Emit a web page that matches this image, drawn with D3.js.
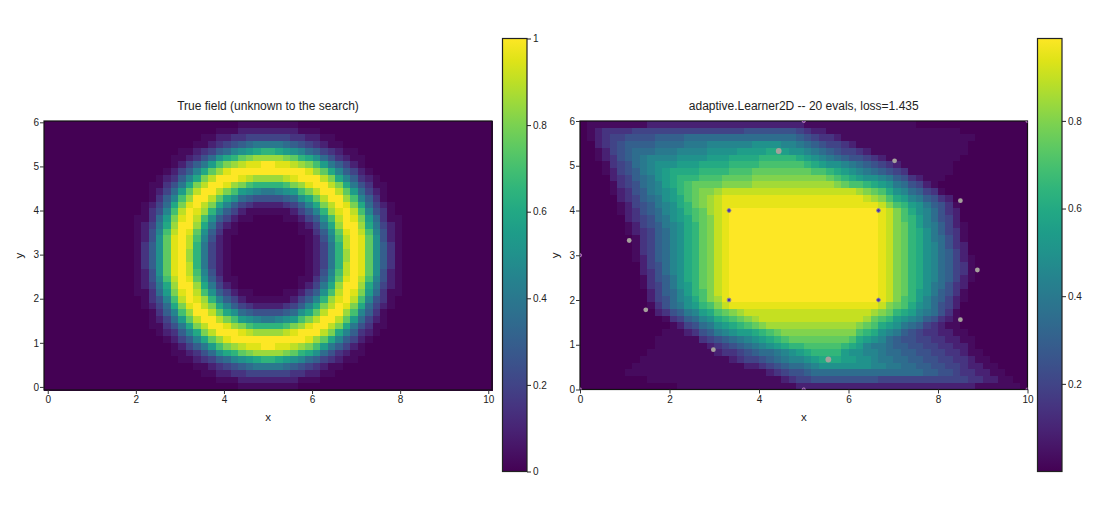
<!DOCTYPE html>
<html>
<head>
<meta charset="utf-8">
<script src="https://cdn.jsdelivr.net/npm/d3@7"></script>
<style>
  body { margin: 0; background: #fff; }
  text { font-family: "Liberation Sans", Arial, sans-serif; fill: #222; }
</style>
</head>
<body>
<div id="wrapper"></div>
<script>
// cell levels, one char per cell, each char indexes levelValues
const levelChars = "0123456789abcdefghijk";
const levelValues = [0, 0.03, 0.09, 0.15, 0.2, 0.25, 0.3, 0.35, 0.4, 0.45, 0.5, 0.55, 0.6, 0.65, 0.7, 0.75, 0.8, 0.85, 0.9, 0.95, 1];

const trueField = [
  "0000000000 0000000000 0000001111 1111000000 0000000000 0000000000",
  "0000000000 0000000000 0001112222 2222111000 0000000000 0000000000",
  "0000000000 0000000000 0112233444 4443322110 0000000000 0000000000",
  "0000000000 0000000000 1123456788 8876543211 0000000000 0000000000",
  "0000000000 0000000011 234679abcd dcba976432 1100000000 0000000000",
  "0000000000 0000000112 357acdfghh hhgfdca753 2110000000 0000000000",
  "0000000000 0000000124 68beghijjk kjjihgeb86 4210000000 0000000000",
  "0000000000 0000001246 9cfhjkkkkk kkkkkjhfc9 6421000000 0000000000",
  "0000000000 0000012369 cgikkkjihh hhijkkkigc 9632100000 0000000000",
  "0000000000 000011358c gikkjhgedd ddeghjkkig c853110000 0000000000",
  "0000000000 00001247bf ikkigeba98 89abegikki fb74210000 0000000000",
  "0000000000 00001369eh kkifca7655 5567acfikk he96310000 0000000000",
  "0000000000 0001247cgj kigc964322 223469cgik jgc7421000 0000000000",
  "0000000000 0001359eik jhd9642111 1112469dhj kie9531000 0000000000",
  "0000000000 001137bgjk iea6421100 0011246aei kjgb731100 0000000000",
  "0000000000 001248chkk hc84210000 00001248ch kkhc842100 0000000000",
  "0000000000 001259eikj fa63110000 00001136af jkie952100 0000000000",
  "0000000000 00125afjki e952100000 000001259e ikjfa52100 0000000000",
  "0000000000 00136afjki d842100000 000001248d ikjfa63100 0000000000",
  "0000000000 00136afjkh d842100000 000001248d hkjfa63100 0000000000",
  "0000000000 00136afjkh d842100000 000001248d hkjfa63100 0000000000",
  "0000000000 00136afjki d842100000 000001248d ikjfa63100 0000000000",
  "0000000000 00125afjki e952100000 000001259e ikjfa52100 0000000000",
  "0000000000 001259eikj fa63110000 00001136af jkie952100 0000000000",
  "0000000000 001248chkk hc84210000 00001248ch kkhc842100 0000000000",
  "0000000000 001137bgjk iea6421100 0011246aei kjgb731100 0000000000",
  "0000000000 0001359eik jhd9642111 1112469dhj kie9531000 0000000000",
  "0000000000 0001247cgj kigc964322 223469cgik jgc7421000 0000000000",
  "0000000000 00001369eh kkifca7655 5567acfikk he96310000 0000000000",
  "0000000000 00001247bf ikkigeba98 89abegikki fb74210000 0000000000",
  "0000000000 000011358c gikkjhgedd ddeghjkkig c853110000 0000000000",
  "0000000000 0000012369 cgikkkjihh hhijkkkigc 9632100000 0000000000",
  "0000000000 0000001246 9cfhjkkkkk kkkkkjhfc9 6421000000 0000000000",
  "0000000000 0000000124 68beghijjk kjjihgeb86 4210000000 0000000000",
  "0000000000 0000000112 357acdfghh hhgfdca753 2110000000 0000000000",
  "0000000000 0000000011 234679abcd dcba976432 1100000000 0000000000",
  "0000000000 0000000000 1123456788 8876543211 0000000000 0000000000",
  "0000000000 0000000000 0112233444 4443322110 0000000000 0000000000",
  "0000000000 0000000000 0001112222 2222111000 0000000000 0000000000",
  "0000000000 0000000000 0000001111 1111000000 0000000000 0000000000"
];

const learnerField = [
  "0111111112 2222222222 2222222222 1111111111 1111100000 0000000000",
  "0123333444 4444444444 4455555554 3221111111 1111111111 1000000000",
  "0123445555 6666777777 7777777776 5433211111 1111111111 1110000000",
  "0023456666 7777888999 999aaaa998 7654432111 1111111111 1100000000",
  "0012456777 8889999aaa abbbbccbaa 9876544321 1111111111 1100000000",
  "0012356789 999aaaabbb ccccdddddc ba98765543 2111111111 1000000000",
  "0001345789 aaabbbcccc ddddeeeeee dcbaa98765 4321111111 0000000000",
  "0001245689 abccccdddd eeefffffff feedcba987 6543111111 0000000000",
  "0000234678 abcdddeeef fffggggggg gggfedcbaa 9865321110 0000000000",
  "0000134578 9bcdeffffg ggghhhhhhh hhhhgfeedc ba87542100 0000000000",
  "0000123568 9abdefgghi iiiiiiiiii iiiiiiihgf eca9764310 0000000000",
  "0000023467 8abcefghij jjjjjjjjjj jjjjjjjjih gecb986532 0000000000",
  "0000012456 89acdfghij jjjjjjjjjj jjjjjjjjjj igedba8653 1000000000",
  "0000012356 79abdefhij kkkkkkkkkk kkkkkkkkkk jigeca9753 2000000000",
  "0000002345 78abcefgij kkkkkkkkkk kkkkkkkkkk jigedb9754 2000000000",
  "0000001245 689acdfgij kkkkkkkkkk kkkkkkkkkk jigfdb9864 2100000000",
  "0000001234 679acdfgij kkkkkkkkkk kkkkkkkkkk jigfdca864 3100000000",
  "0000000134 679acdfgij kkkkkkkkkk kkkkkkkkkk jigfdca875 3100000000",
  "0000000134 679acdfgij kkkkkkkkkk kkkkkkkkkk jigfdca975 3200000000",
  "0000000134 679acdfgij kkkkkkkkkk kkkkkkkkkk jigfdca976 4200000000",
  "0000000124 679acdfgij kkkkkkkkkk kkkkkkkkkk jigfdca976 4210000000",
  "0000000024 579acdfgij kkkkkkkkkk kkkkkkkkkk jigfdca976 4310000000",
  "0000000023 579acdfgij kkkkkkkkkk kkkkkkkkkk jigfdca976 4310000000",
  "0000000013 568acdfgij kkkkkkkkkk kkkkkkkkkk jigfdca976 4210000000",
  "0000000013 468abdfgij kkkkkkkkkk kkkkkkkkkk jigfdca875 3200000000",
  "0000000002 4679bdegij kkkkkkkkkk kkkkkkkkkk jigfdba865 3100000000",
  "0000000002 4579aceghj kkkkkkkkkk kkkkkkkkkk jigedb9764 2100000000",
  "0000000001 3578abdegi jjjjjjjjjj jjjjjjjjjj igfeca9754 2000000000",
  "0000000000 235689bcef ghiiiiiiii iiiiiiiiih gfdcb98753 1000000000",
  "0000000000 0134679acd efghiiiiii iiiiiiiihf edba986532 1000000000",
  "0000000000 00124578ab cdefghhhhh hhhhhhhgfe cba8764321 1000000000",
  "0000000000 0111235689 abbcdefggg gggggggedc a986543322 1100000000",
  "0000000000 1111113456 789abcdeff ffffffecba 9765544332 2110000000",
  "0000000000 1111111234 56789abcdd eeeeedcb98 8766554433 2210000000",
  "0000000001 1111111123 34567789ab cddddbaa99 8776655443 3211000000",
  "0000000011 1111111111 2344567899 abcccbbaa9 8877665544 3321100000",
  "0000000111 1111111111 1122345677 89aaaaaaa9 9887766554 4322110000",
  "0000001111 1111111111 1111123455 6777777777 7777776655 4332211000",
  "0000000001 1111111111 1111111234 4555555555 4444444444 4433221100",
  "0000000000 0001111111 1111111112 2222222222 2222222222 2221111110"
];

// evaluated points of the learner
const outerX = [1.1, 1.47, 2.98, 4.44, 5.55, 7.03, 8.5, 8.88, 8.5];
const outerY = [3.33, 1.78, 0.89, 5.33, 0.67, 5.11, 4.22, 2.67, 1.56];
const innerX = [3.33, 3.33, 6.67, 6.67];
const innerY = [2, 4, 2, 4];
const edgeX = [5, 5, 0, 10, 10, 0];
const edgeY = [0, 6, 3, 0, 6, 0];

const xTicks = [0, 2, 4, 6, 8, 10];
const yTicks = [0, 1, 2, 3, 4, 5, 6];
const leftBarTicks = [0, 0.2, 0.4, 0.6, 0.8, 1];
const rightBarTicks = [0.2, 0.4, 0.6, 0.8];

const wrapper = d3.select("#wrapper").append("svg").attr("width", 1100).attr("height", 520);
const defs = wrapper.append("defs");

function parseField(rows) {
  return rows.map(r => r.replace(/ /g, "").split("").map(c => levelValues[levelChars.indexOf(c)]));
}

function drawPanel(opts) {
  const field = parseField(opts.rows);
  const b = opts.box;
  const color = d3.scaleSequential(d3.interpolateViridis).domain(opts.colorDomain).clamp(true);
  const col = d3.scaleBand().domain(d3.range(field[0].length)).range([b.left, b.right]);
  const row = d3.scaleBand().domain(d3.range(field.length)).range([b.top, b.bottom]);
  const x = d3.scaleLinear().domain(opts.xDomain).range([b.left, b.right]);
  const y = d3.scaleLinear().domain(opts.yDomain).range([b.bottom, b.top]);

  const g = wrapper.append("g");
  const cells = [];
  field.forEach((vals, j) => vals.forEach((v, i) => cells.push({ i, j, v })));
  g.append("g").selectAll("rect")
    .data(cells)
    .enter()
    .append("rect")
    .attr("x", d => col(d.i))
    .attr("y", d => row(d.j))
    .attr("width", col.bandwidth() + 0.5)
    .attr("height", row.bandwidth() + 0.5)
    .attr("shape-rendering", "crispEdges")
    .attr("fill", d => color(d.v));

  g.append("rect")
    .attr("x", b.left).attr("y", b.top)
    .attr("width", b.right - b.left).attr("height", b.bottom - b.top)
    .attr("fill", "none").attr("stroke", "#111").attr("stroke-width", 1.2);

  const axisX = g.append("g").attr("transform", `translate(0,${b.bottom})`)
    .call(d3.axisBottom(x).tickValues(xTicks).tickSize(4).tickPadding(2).tickFormat(d3.format("d")));
  const axisY = g.append("g").attr("transform", `translate(${b.left},0)`)
    .call(d3.axisLeft(y).tickValues(yTicks).tickSize(4).tickPadding(1).tickFormat(d3.format("d")));
  [axisX, axisY].forEach(a => {
    a.select(".domain").remove();
    a.selectAll("line").attr("stroke", "#333");
    a.selectAll("text").attr("font-size", 10).attr("font-family", '"Liberation Sans"').attr("fill", "#222");
  });

  g.append("text").attr("x", (b.left + b.right) / 2).attr("y", b.top - 11)
    .attr("text-anchor", "middle").attr("font-size", 12).text(opts.title);
  g.append("text").attr("x", (b.left + b.right) / 2).attr("y", 421)
    .attr("text-anchor", "middle").attr("font-size", 11.5).text("x");
  g.append("text").attr("transform", `translate(${b.left - 21},${(b.top + b.bottom) / 2}) rotate(-90)`)
    .attr("text-anchor", "middle").attr("font-size", 11.5).text("y");

  // colorbar
  const bar = opts.bar;
  const gradId = "grad" + b.left;
  const grad = defs.append("linearGradient").attr("id", gradId)
    .attr("x1", 0).attr("x2", 0).attr("y1", 1).attr("y2", 0);
  d3.range(0, 1.001, 0.05).forEach(t => {
    grad.append("stop").attr("offset", t).attr("stop-color", d3.interpolateViridis(t));
  });
  g.append("rect")
    .attr("x", bar.left).attr("y", bar.top)
    .attr("width", bar.right - bar.left).attr("height", bar.bottom - bar.top)
    .attr("fill", `url(#${gradId})`).attr("stroke", "#222").attr("stroke-width", 1.2);
  const barScale = d3.scaleLinear().domain(opts.colorDomain).range([bar.bottom, bar.top]);
  const axisBar = g.append("g").attr("transform", `translate(${bar.right},0)`)
    .call(d3.axisRight(barScale).tickValues(opts.barTicks).tickSize(4).tickPadding(2).tickFormat(d => String(d)));
  axisBar.select(".domain").remove();
  axisBar.selectAll("line").attr("stroke", "#222");
  axisBar.selectAll("text").attr("font-size", 10).attr("font-family", '"Liberation Sans"').attr("fill", "#222");

  return { g, x, y, b };
}

drawPanel({
  rows: trueField,
  box: { left: 44, right: 492, top: 121, bottom: 390 },
  xDomain: [-0.085, 10.085],
  yDomain: [-0.07, 6.03],
  colorDomain: [0, 1],
  title: "True field (unknown to the search)",
  bar: { left: 502.5, right: 527, top: 38.5, bottom: 471.5 },
  barTicks: leftBarTicks
});

const right = drawPanel({
  rows: learnerField,
  box: { left: 580, right: 1027.5, top: 121, bottom: 389.5 },
  xDomain: [0, 10],
  yDomain: [0, 6],
  colorDomain: [0, 0.988],
  title: "adaptive.Learner2D -- 20 evals, loss=1.435",
  bar: { left: 1037.5, right: 1062, top: 38.5, bottom: 471.5 },
  barTicks: rightBarTicks
});

// markers on the learner panel
const clipId = "learnerClip";
defs.append("clipPath").attr("id", clipId).append("rect")
  .attr("x", right.b.left).attr("y", right.b.top)
  .attr("width", right.b.right - right.b.left).attr("height", right.b.bottom - right.b.top);
const pts = right.g.append("g").attr("clip-path", `url(#${clipId})`);

pts.selectAll("circle.outer")
  .data(outerX)
  .enter()
  .append("circle")
  .attr("class", "outer")
  .attr("cx", d => right.x(d))
  .attr("cy", (d, i) => right.y(outerY[i]))
  .attr("r", (d, i) => (outerX[i] == 4.44 || outerX[i] == 5.55) ? 2.9 : 2.4)
  .attr("fill", "#a5a19c");

pts.selectAll("circle.inner")
  .data(innerX)
  .enter()
  .append("circle")
  .attr("class", "inner")
  .attr("cx", d => right.x(d))
  .attr("cy", (d, i) => right.y(innerY[i]))
  .attr("r", 1.9)
  .attr("fill", "#4a2fb0")
  .attr("stroke", "#8f8f8f")
  .attr("stroke-width", 1);

pts.selectAll("circle.edge")
  .data(edgeX)
  .enter()
  .append("circle")
  .attr("class", "edge")
  .attr("cx", d => right.x(d))
  .attr("cy", (d, i) => right.y(edgeY[i]))
  .attr("r", 1.6)
  .attr("fill", "#6a2a9a")
  .attr("stroke", "#d9a9c9")
  .attr("stroke-width", 0.7);
</script>
</body>
</html>
